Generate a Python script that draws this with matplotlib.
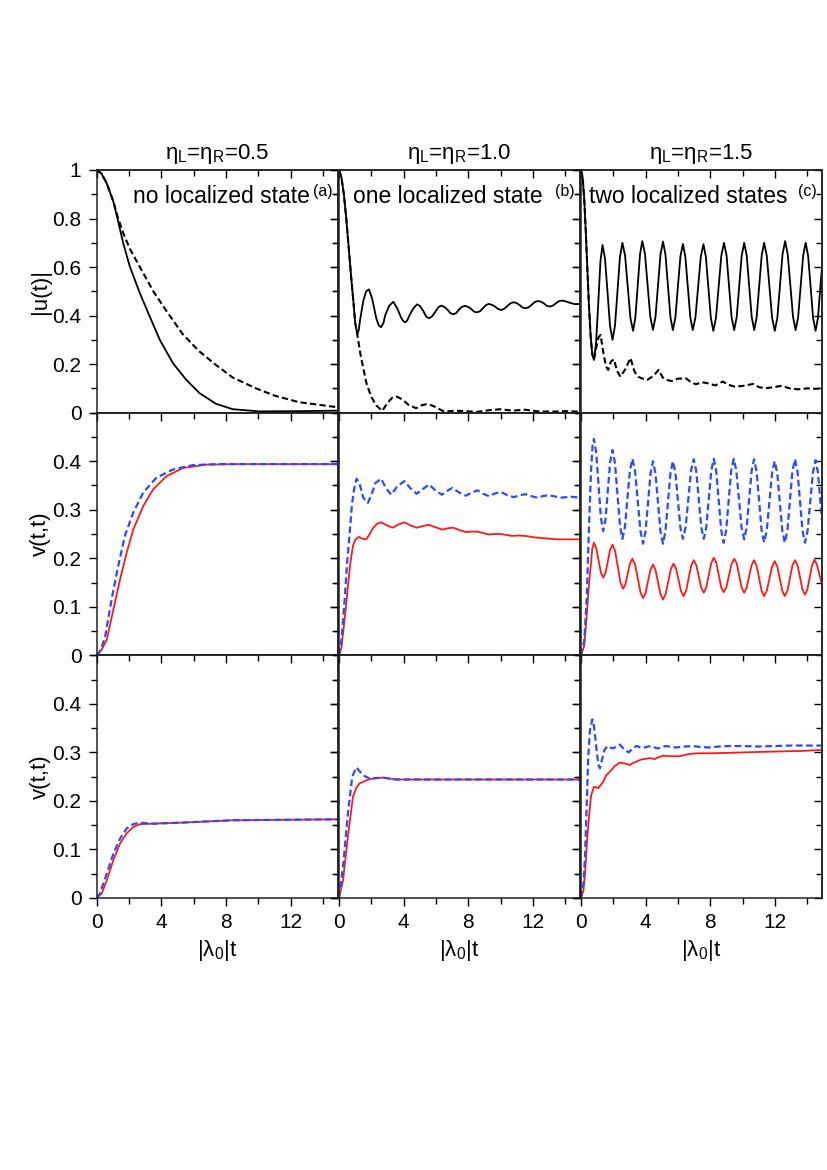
import matplotlib
matplotlib.use("Agg")
import matplotlib.pyplot as plt
from matplotlib.ticker import MultipleLocator, FixedLocator
import numpy as np

plt.rcParams["font.family"] = ["Liberation Sans", "DejaVu Sans"]
plt.rcParams["mathtext.fontset"] = "custom"
plt.rcParams["mathtext.rm"] = "Liberation Sans"
plt.rcParams["mathtext.it"] = "Liberation Sans:italic"

# ---- data: (|lambda0| t, value) pairs ----
TITLES = ["η$_{\\rm L}$=η$_{\\rm R}$=0.5",
          "η$_{\\rm L}$=η$_{\\rm R}$=1.0",
          "η$_{\\rm L}$=η$_{\\rm R}$=1.5"]
NOTES = ["no localized state", "one localized state", "two localized states"]
TAGS = ["(a)", "(b)", "(c)"]

# row 1: |u(t)|, solid and dashed
U_A_SOLID = np.array([
    [0, 1.0], [0.3, 0.985], [0.62, 0.945], [1.03, 0.87], [1.33, 0.787], [1.64, 0.698],
    [2.05, 0.602], [2.67, 0.492], [3.28, 0.396], [3.9, 0.30], [4.72, 0.203],
    [5.54, 0.135], [6.36, 0.08], [7.38, 0.036], [8.41, 0.014], [10.05, 0.005],
    [12.5, 0.006], [14.9, 0.008]])
U_A_DASH = np.array([
    [0, 1.0], [0.3, 0.985], [0.62, 0.945], [1.03, 0.87], [1.33, 0.80], [1.64, 0.74],
    [2.05, 0.675], [2.67, 0.60], [3.5, 0.50], [4.3, 0.42], [5.3, 0.325], [6.3, 0.255],
    [7.4, 0.195], [8.4, 0.145], [9.85, 0.10], [11.0, 0.07], [12.5, 0.043], [14.9, 0.022]])
U_B_SOLID = np.array([
    [0, 1.0], [0.15, 0.97], [0.3, 0.90], [0.45, 0.80], [0.6, 0.68], [0.75, 0.56],
    [0.9, 0.45], [1.0, 0.37], [1.13, 0.324], [1.22, 0.34], [1.3, 0.38], [1.5, 0.46],
    [1.68, 0.50], [1.85, 0.508], [2.05, 0.47], [2.3, 0.39], [2.45, 0.36], [2.6, 0.352],
    [2.75, 0.37], [2.85, 0.40], [3.1, 0.44], [3.36, 0.457], [3.6, 0.43], [3.85, 0.39],
    [3.98, 0.377], [4.1, 0.372], [4.22, 0.38], [4.35, 0.40], [4.6, 0.43], [4.82, 0.446],
    [5.0, 0.44], [5.2, 0.42], [5.4, 0.395], [5.58, 0.389], [5.76, 0.397], [5.95, 0.415],
    [6.14, 0.434], [6.32, 0.441], [6.5, 0.436], [6.7, 0.425], [6.88, 0.41], [7.06, 0.405],
    [7.24, 0.41], [7.42, 0.425], [7.6, 0.436], [7.79, 0.44], [7.97, 0.436], [8.16, 0.428],
    [8.35, 0.416], [8.53, 0.413], [8.72, 0.418], [8.9, 0.43], [9.08, 0.443], [9.27, 0.448],
    [9.46, 0.444], [9.65, 0.437], [9.84, 0.427], [10.03, 0.423], [10.22, 0.428],
    [10.42, 0.44], [10.61, 0.451], [10.81, 0.455], [10.99, 0.451], [11.17, 0.443],
    [11.35, 0.433], [11.53, 0.43], [11.72, 0.434], [11.92, 0.445], [12.11, 0.456],
    [12.31, 0.46], [12.49, 0.457], [12.67, 0.45], [12.85, 0.44], [13.03, 0.437],
    [13.22, 0.441], [13.4, 0.45], [13.59, 0.459], [13.78, 0.462], [14.04, 0.458],
    [14.3, 0.452], [14.6, 0.447], [14.9, 0.448]])
U_B_DASH = np.array([
    [0, 1.0], [0.15, 0.97], [0.3, 0.90], [0.45, 0.80], [0.6, 0.68], [0.75, 0.56],
    [0.9, 0.45], [1.0, 0.37], [1.13, 0.324], [1.3, 0.25], [1.48, 0.19], [1.7, 0.12],
    [1.99, 0.066], [2.3, 0.03], [2.67, 0.007], [3.0, 0.04], [3.3, 0.062], [3.57, 0.066],
    [3.9, 0.055], [4.3, 0.032], [4.76, 0.018], [5.1, 0.03], [5.48, 0.036], [5.9, 0.025],
    [6.5, 0.004], [7.2, 0.008], [7.8, 0.006], [8.5, 0.003], [9.3, 0.01], [10.0, 0.014],
    [10.7, 0.008], [11.5, 0.012], [12.3, 0.005], [13.2, 0.004], [14.0, 0.006], [14.9, 0.004]])
U_C_SOLID = np.array([
    [0, 1.0], [0.1, 0.97], [0.2, 0.88], [0.3, 0.74], [0.4, 0.58], [0.5, 0.43],
    [0.6, 0.31], [0.7, 0.24], [0.8, 0.217], [0.93, 0.286], [1.07, 0.454], [1.20, 0.622],
    [1.33, 0.691], [1.485, 0.634], [1.64, 0.496], [1.795, 0.357], [1.95, 0.30],
    [2.10, 0.358], [2.255, 0.50], [2.41, 0.642], [2.56, 0.70], [2.725, 0.647], [2.89, 0.519],
    [3.055, 0.39], [3.22, 0.337], [3.36, 0.391], [3.505, 0.522], [3.65, 0.653], [3.79, 0.707],
    [3.955, 0.654], [4.12, 0.524], [4.285, 0.394], [4.45, 0.341], [4.605, 0.394], [4.76, 0.523],
    [4.915, 0.652], [5.07, 0.705], [5.22, 0.652], [5.375, 0.523], [5.53, 0.393], [5.68, 0.34],
    [5.835, 0.392], [5.99, 0.518], [6.145, 0.643], [6.30, 0.695], [6.45, 0.643], [6.605, 0.518],
    [6.76, 0.392], [6.91, 0.34], [7.075, 0.392], [7.24, 0.517], [7.405, 0.642], [7.57, 0.694],
    [7.72, 0.642], [7.875, 0.516], [8.03, 0.389], [8.18, 0.337], [8.345, 0.39], [8.51, 0.519],
    [8.675, 0.647], [8.84, 0.70], [9.0, 0.647], [9.155, 0.52], [9.31, 0.393], [9.47, 0.34],
    [9.625, 0.393], [9.78, 0.52], [9.935, 0.647], [10.09, 0.70], [10.245, 0.647], [10.40, 0.52],
    [10.555, 0.393], [10.71, 0.34], [10.86, 0.393], [11.015, 0.52], [11.17, 0.647], [11.32, 0.70],
    [11.485, 0.647], [11.65, 0.519], [11.815, 0.39], [11.98, 0.337], [12.14, 0.391], [12.30, 0.522],
    [12.46, 0.653], [12.62, 0.707], [12.78, 0.653], [12.945, 0.524], [13.11, 0.394], [13.27, 0.34],
    [13.425, 0.393], [13.58, 0.52], [13.735, 0.647], [13.89, 0.70], [14.04, 0.647], [14.195, 0.519],
    [14.35, 0.39], [14.50, 0.337], [14.65, 0.39], [14.80, 0.52], [14.95, 0.64]])
U_C_DASH = np.array([
    [0, 1.0], [0.1, 0.97], [0.2, 0.88], [0.3, 0.74], [0.4, 0.58], [0.5, 0.43],
    [0.6, 0.31], [0.7, 0.24], [0.8, 0.217], [0.95, 0.27], [1.08, 0.31], [1.21, 0.32],
    [1.4, 0.24], [1.55, 0.19], [1.68, 0.176], [1.85, 0.21], [2.03, 0.22], [2.24, 0.17],
    [2.44, 0.148], [2.75, 0.18], [3.06, 0.225], [3.3, 0.17], [3.53, 0.148], [3.8, 0.14],
    [4.1, 0.135], [4.45, 0.15], [4.8, 0.176], [5.05, 0.145], [5.27, 0.135], [5.6, 0.13],
    [6.0, 0.14], [6.5, 0.141], [6.8, 0.125], [7.1, 0.117], [7.5, 0.125], [7.9, 0.12],
    [8.3, 0.112], [8.77, 0.128], [9.1, 0.115], [9.5, 0.107], [10.0, 0.11], [10.64, 0.118],
    [11.0, 0.105], [11.4, 0.1], [11.9, 0.105], [12.4, 0.11], [12.9, 0.1], [13.4, 0.096],
    [14.0, 0.1], [14.5, 0.098], [14.95, 0.1]])

# row 2: v(t,t), red solid and blue dashed
V1_A_RED = np.array([
    [0, 0], [0.31, 0.012], [0.62, 0.032], [1.03, 0.094], [1.44, 0.156], [1.85, 0.211],
    [2.26, 0.259], [2.87, 0.307], [3.49, 0.342], [4.31, 0.369], [5.33, 0.386],
    [6.77, 0.393], [8.5, 0.394], [14.9, 0.394]])
V1_A_BLUE = np.array([
    [0, 0], [0.2, 0.008], [0.51, 0.036], [0.92, 0.115], [1.33, 0.184], [1.74, 0.246],
    [2.26, 0.294], [2.87, 0.335], [3.69, 0.366], [4.72, 0.383], [5.95, 0.392],
    [7.5, 0.394], [14.9, 0.394]])
V1_B_RED = np.array([
    [0, 0], [0.15, 0.015], [0.25, 0.046], [0.4, 0.09], [0.55, 0.142], [0.7, 0.19],
    [0.86, 0.225], [1.0, 0.238], [1.23, 0.244], [1.45, 0.24], [1.68, 0.239], [1.85, 0.247],
    [2.1, 0.262], [2.35, 0.271], [2.6, 0.274], [2.95, 0.268], [3.32, 0.263], [3.7, 0.27],
    [4.04, 0.274], [4.4, 0.268], [4.8, 0.263], [5.15, 0.266], [5.54, 0.269], [5.95, 0.264],
    [6.4, 0.259], [6.75, 0.262], [7.06, 0.263], [7.45, 0.258], [7.84, 0.254], [8.2, 0.255],
    [8.55, 0.255], [8.9, 0.252], [9.27, 0.249], [9.6, 0.25], [9.99, 0.25], [10.35, 0.248],
    [10.7, 0.246], [11.1, 0.247], [11.53, 0.246], [12.1, 0.243], [12.76, 0.241],
    [13.5, 0.239], [14.9, 0.239]])
V1_B_BLUE = np.array([
    [0, 0], [0.15, 0.03], [0.35, 0.115], [0.5, 0.19], [0.66, 0.252], [0.8, 0.31],
    [0.9, 0.335], [1.0, 0.355], [1.1, 0.364], [1.3, 0.35], [1.5, 0.325], [1.78, 0.314],
    [2.0, 0.33], [2.25, 0.355], [2.6, 0.364], [2.9, 0.345], [3.22, 0.331], [3.6, 0.348],
    [4.04, 0.359], [4.4, 0.345], [4.8, 0.333], [5.2, 0.343], [5.58, 0.352], [5.95, 0.34],
    [6.36, 0.331], [6.7, 0.339], [7.0, 0.345], [7.4, 0.336], [7.84, 0.329], [8.2, 0.335],
    [8.55, 0.34], [8.9, 0.333], [9.27, 0.328], [9.6, 0.333], [9.99, 0.337], [10.4, 0.33],
    [10.81, 0.326], [11.2, 0.33], [11.53, 0.332], [11.9, 0.328], [12.25, 0.325],
    [12.6, 0.328], [12.96, 0.33], [13.4, 0.327], [13.78, 0.325], [14.3, 0.327], [14.9, 0.325]])
V1_C_RED = np.array([
    [0, 0], [0.2, 0.02], [0.35, 0.08], [0.5, 0.15], [0.6, 0.184], [0.7, 0.22], [0.8, 0.232],
    [0.94, 0.221], [1.085, 0.196], [1.23, 0.171], [1.37, 0.16], [1.515, 0.17], [1.66, 0.194],
    [1.805, 0.218], [1.95, 0.228], [2.11, 0.215], [2.275, 0.183], [2.44, 0.15], [2.60, 0.137],
    [2.745, 0.146], [2.89, 0.168], [3.035, 0.19], [3.18, 0.199], [3.345, 0.187], [3.51, 0.159],
    [3.675, 0.13], [3.84, 0.118], [3.99, 0.128], [4.145, 0.153], [4.30, 0.177], [4.45, 0.187],
    [4.605, 0.176], [4.76, 0.151], [4.915, 0.126], [5.07, 0.115], [5.23, 0.126], [5.395, 0.152],
    [5.56, 0.178], [5.72, 0.189], [5.875, 0.179], [6.03, 0.156], [6.185, 0.132], [6.34, 0.122],
    [6.50, 0.133], [6.655, 0.159], [6.81, 0.185], [6.97, 0.196], [7.125, 0.186], [7.28, 0.163],
    [7.435, 0.139], [7.59, 0.129], [7.745, 0.14], [7.90, 0.165], [8.055, 0.19], [8.21, 0.201],
    [8.36, 0.191], [8.515, 0.166], [8.67, 0.14], [8.82, 0.13], [8.985, 0.14], [9.15, 0.165],
    [9.315, 0.189], [9.48, 0.199], [9.63, 0.189], [9.785, 0.164], [9.94, 0.139], [10.09, 0.129],
    [10.24, 0.139], [10.395, 0.163], [10.55, 0.186], [10.70, 0.196], [10.855, 0.185],
    [11.01, 0.159], [11.165, 0.133], [11.32, 0.122], [11.485, 0.133], [11.65, 0.158],
    [11.815, 0.183], [11.98, 0.194], [12.135, 0.183], [12.29, 0.158], [12.445, 0.133],
    [12.60, 0.122], [12.76, 0.133], [12.915, 0.159], [13.07, 0.185], [13.23, 0.196],
    [13.385, 0.186], [13.54, 0.161], [13.695, 0.135], [13.85, 0.125], [13.995, 0.136],
    [14.145, 0.161], [14.29, 0.186], [14.44, 0.197], [14.59, 0.186], [14.75, 0.165],
    [14.91, 0.145]])
V1_C_BLUE = np.array([
    [0, 0], [0.2, 0.03], [0.35, 0.115], [0.5, 0.27], [0.62, 0.38], [0.72, 0.435], [0.8, 0.446],
    [0.94, 0.418], [1.085, 0.351], [1.23, 0.284], [1.37, 0.256], [1.515, 0.28], [1.66, 0.34],
    [1.805, 0.399], [1.95, 0.423], [2.10, 0.396], [2.255, 0.332], [2.41, 0.267], [2.56, 0.24],
    [2.715, 0.264], [2.87, 0.323], [3.025, 0.381], [3.18, 0.405], [3.345, 0.379], [3.51, 0.318],
    [3.675, 0.256], [3.84, 0.23], [3.99, 0.255], [4.145, 0.315], [4.30, 0.375], [4.45, 0.40],
    [4.605, 0.375], [4.76, 0.315], [4.915, 0.255], [5.07, 0.23], [5.22, 0.255], [5.375, 0.315],
    [5.53, 0.375], [5.68, 0.40], [5.835, 0.377], [5.99, 0.32], [6.145, 0.263], [6.30, 0.24],
    [6.47, 0.264], [6.635, 0.322], [6.80, 0.38], [6.97, 0.404], [7.125, 0.38], [7.28, 0.322],
    [7.435, 0.264], [7.59, 0.24], [7.745, 0.264], [7.90, 0.323], [8.055, 0.381], [8.21, 0.405],
    [8.36, 0.38], [8.515, 0.319], [8.67, 0.257], [8.82, 0.232], [8.975, 0.257], [9.13, 0.319],
    [9.285, 0.38], [9.44, 0.405], [9.60, 0.381], [9.765, 0.322], [9.93, 0.263], [10.09, 0.239],
    [10.24, 0.263], [10.395, 0.322], [10.55, 0.38], [10.70, 0.404], [10.855, 0.379],
    [11.01, 0.319], [11.165, 0.258], [11.32, 0.233], [11.485, 0.257], [11.65, 0.317],
    [11.815, 0.376], [11.98, 0.40], [12.135, 0.375], [12.29, 0.316], [12.445, 0.257],
    [12.60, 0.232], [12.76, 0.257], [12.915, 0.318], [13.07, 0.379], [13.23, 0.404],
    [13.385, 0.379], [13.54, 0.318], [13.695, 0.257], [13.85, 0.232], [14.01, 0.257],
    [14.175, 0.317], [14.34, 0.377], [14.50, 0.402], [14.65, 0.377], [14.80, 0.317],
    [14.91, 0.275]])

# row 3: v(t,t), red solid and blue dashed
V2_A_RED = np.array([
    [0, 0], [0.31, 0.009], [0.62, 0.036], [1.03, 0.078], [1.44, 0.112], [1.85, 0.133],
    [2.26, 0.146], [2.67, 0.152], [3.49, 0.153], [5.13, 0.155], [8.41, 0.16], [14.9, 0.162]])
V2_A_BLUE = np.array([
    [0, 0], [0.2, 0.009], [0.62, 0.05], [1.03, 0.091], [1.44, 0.122], [1.85, 0.143],
    [2.26, 0.152], [2.67, 0.155], [3.49, 0.153], [5.13, 0.155], [8.41, 0.16], [14.9, 0.162]])
V2_B_RED = np.array([
    [0, 0], [0.25, 0.036], [0.55, 0.126], [0.86, 0.208], [1.07, 0.227], [1.27, 0.236],
    [1.89, 0.245], [2.7, 0.248], [3.53, 0.244], [6.0, 0.244], [14.9, 0.244]])
V2_B_BLUE = np.array([
    [0, 0], [0.25, 0.064], [0.55, 0.174], [0.82, 0.25], [1.07, 0.269], [1.25, 0.262],
    [1.48, 0.253], [1.89, 0.246], [2.7, 0.248], [3.53, 0.244], [6.0, 0.244], [14.9, 0.244]])
V2_C_RED = np.array([
    [0, 0], [0.15, 0.015], [0.25, 0.05], [0.38, 0.12], [0.51, 0.174], [0.62, 0.21],
    [0.8, 0.229], [0.93, 0.228], [1.07, 0.226], [1.2, 0.232], [1.37, 0.239], [1.55, 0.252],
    [1.78, 0.26], [2.1, 0.272], [2.4, 0.279], [2.71, 0.277], [3.02, 0.274], [3.2, 0.278],
    [3.43, 0.281], [3.7, 0.285], [4.04, 0.287], [4.3, 0.288], [4.55, 0.286], [4.8, 0.29],
    [5.07, 0.293], [5.5, 0.292], [6.09, 0.292], [6.6, 0.296], [7.1, 0.298], [8.0, 0.298],
    [9.17, 0.299], [10.2, 0.3], [11.22, 0.301], [12.5, 0.302], [13.7, 0.303], [14.9, 0.305]])
V2_C_BLUE = np.array([
    [0, 0], [0.15, 0.03], [0.25, 0.085], [0.35, 0.19], [0.45, 0.291], [0.55, 0.345],
    [0.7, 0.368], [0.8, 0.355], [0.95, 0.31], [1.07, 0.275], [1.17, 0.267], [1.3, 0.285],
    [1.45, 0.305], [1.64, 0.313], [1.8, 0.31], [1.99, 0.308], [2.2, 0.313], [2.4, 0.316],
    [2.7, 0.305], [2.95, 0.300], [3.2, 0.308], [3.43, 0.313], [3.7, 0.31], [3.94, 0.31],
    [4.15, 0.312], [4.35, 0.313], [4.55, 0.31], [4.76, 0.308], [5.0, 0.311], [5.27, 0.313],
    [5.6, 0.311], [5.89, 0.31], [6.4, 0.312], [6.91, 0.313], [7.4, 0.311], [7.94, 0.31],
    [8.5, 0.312], [9.17, 0.313], [10.0, 0.313], [11.0, 0.312], [12.0, 0.313], [13.0, 0.314],
    [14.0, 0.314], [14.9, 0.314]])

ROWS = [
    [(U_A_SOLID, U_A_DASH), (U_B_SOLID, U_B_DASH), (U_C_SOLID, U_C_DASH)],
    [(V1_A_RED, V1_A_BLUE), (V1_B_RED, V1_B_BLUE), (V1_C_RED, V1_C_BLUE)],
    [(V2_A_RED, V2_A_BLUE), (V2_B_RED, V2_B_BLUE), (V2_C_RED, V2_C_BLUE)],
]
YLABELS = ["|u(t)|", "v(t,t)", "v(t,t)"]

RED = "#ff1a1a"
BLUE = "#2a4bff"

fig = plt.figure(figsize=(8.27, 11.70), dpi=100)

W, H = 827.0, 1170.0
lefts = [96.7, 339.0, 581.0]
width = 241.0
tops = [170.0, 412.7, 655.3]
height = 242.6
note_right = [0.885, 0.846, 0.855]


def set_ticks(axis, major, minor):
    axis.set_major_locator(major)
    axis.set_minor_locator(minor)


for r in range(3):
    for c in range(3):
        ax = fig.add_axes([lefts[c] / W, 1 - (tops[r] + height) / H, width / W, height / H])
        first, second = ROWS[r][c]
        if r == 0:
            ax.plot(first[:, 0], first[:, 1], color="black", lw=1.3)
            ax.plot(second[:, 0], second[:, 1], color="black", lw=1.5, ls=(0, (3, 1.6)))
            ax.set_ylim(0, 1)
            ymaj, ymin = [0, 0.2, 0.4, 0.6, 0.8, 1.0], 0.1
        else:
            ax.plot(first[:, 0], first[:, 1], color=RED, lw=1.3)
            ax.plot(second[:, 0], second[:, 1], color=BLUE, lw=1.6, ls=(0, (3, 1.6)))
            ax.set_ylim(0, 0.5)
            ymaj, ymin = [0, 0.1, 0.2, 0.3, 0.4], 0.05
        ax.set_xlim(0, 14.9)
        set_ticks(ax.xaxis, MultipleLocator(4), MultipleLocator(2))
        set_ticks(ax.yaxis, FixedLocator(ymaj), MultipleLocator(ymin))
        ax.yaxis.set_major_formatter(plt.FuncFormatter(lambda v, p: f"{v:g}"))

        # left / bottom ticks point out, top / right ticks point in
        ax.tick_params(which="both", direction="out", top=False, right=False,
                       labelsize=15, width=1.0)
        ax.tick_params(which="major", length=6, pad=5)
        ax.tick_params(which="minor", length=4)
        top = ax.secondary_xaxis("top")
        right = ax.secondary_yaxis("right")
        set_ticks(top.xaxis, MultipleLocator(4), MultipleLocator(2))
        set_ticks(right.yaxis, FixedLocator(ymaj), MultipleLocator(ymin))
        for sec in (top, right):
            sec.tick_params(which="both", direction="in", width=1.0,
                            labeltop=False, labelright=False)
            sec.tick_params(which="major", length=6)
            sec.tick_params(which="minor", length=4)
            for spine in sec.spines.values():
                spine.set_linewidth(1.1)
                spine.set_color("#222222")
        for spine in ax.spines.values():
            spine.set_linewidth(1.1)
            spine.set_color("#222222")

        if c > 0:
            ax.tick_params(labelleft=False)
        else:
            ax.set_ylabel(YLABELS[r], fontsize=16)
            ax.yaxis.set_label_coords(-0.19, 0.5)
        if r < 2:
            ax.tick_params(labelbottom=False)
        else:
            ax.set_xlabel("|λ$_0$|t", fontsize=16)
            ax.xaxis.set_label_coords(0.5, -0.165)
            ax.xaxis.label.set_va("top")

        if r == 0:
            ax.text(note_right[c], 0.89, NOTES[c], transform=ax.transAxes, fontsize=16.5,
                    ha="right", va="center")
            ax.text(0.978, 0.912, TAGS[c], transform=ax.transAxes, fontsize=11.5,
                    ha="right", va="center")
            fig.text((lefts[c] + width / 2) / W, 1 - 154 / H, TITLES[c], fontsize=16,
                     ha="center", va="center")

fig.savefig("out.png", dpi=100)
